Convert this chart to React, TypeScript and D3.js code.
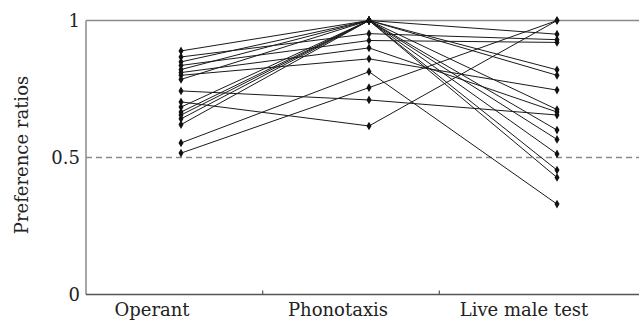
import React from "react";
import * as d3 from "d3";

const categories = ["Operant", "Phonotaxis", "Live male test"];
const yTicks = [0, 0.5, 1];
const operant = [0.889, 0.867, 0.849, 0.836, 0.821, 0.81, 0.80, 0.785, 0.743, 0.703, 0.684, 0.666, 0.655, 0.641, 0.62, 0.553, 0.516];
const phonotaxis = [1.0, 0.952, 1.0, 0.927, 1.0, 0.90, 0.86, 1.0, 0.71, 0.615, 1.0, 1.0, 1.0, 1.0, 1.0, 0.813, 0.755];
const liveMale = [0.95, 0.93, 0.82, 0.92, 0.80, 0.666, 0.746, 0.675, 0.655, 1.0, 0.566, 0.513, 0.454, 0.427, 0.60, 0.33, 1.0];

const W = 639, H = 322;
const left = 86, top = 20.5, bottom = 294.5, right = 639;

export default function App() {
  const y = d3.scaleLinear().domain([0, 1]).range([bottom, top]);
  const xPts = d3.scalePoint().domain(categories).range([181, 557]);
  const xLab = d3.scalePoint().domain(categories).range([152, 524]);
  const band = d3.scaleBand().domain(categories).range([left, 616]);
  const subjects = operant.map((v, i) => [v, phonotaxis[i], liveMale[i]]);
  const line = d3.line<number>().x((_, j) => xPts(categories[j])!).y((v) => y(v));
  const sym = d3.symbol().type(d3.symbolDiamond).size(22)()!;
  const font = "'DejaVu Serif', serif";
  const axisColor = "#8a8a8a";
  return (
    <svg width={W} height={H} style={{ position: "absolute", left: 0, top: 0, background: "#fff" }}>
      <line x1={left} x2={right} y1={y(0.5)} y2={y(0.5)} stroke={axisColor} strokeWidth={1.5} strokeDasharray="6,4" />
      <line x1={left} x2={right} y1={y(1)} y2={y(1)} stroke={axisColor} strokeWidth={1.5} />
      <line x1={left} x2={left} y1={y(1)} y2={y(0)} stroke={axisColor} strokeWidth={1.5} />
      <line x1={left} x2={right} y1={y(0)} y2={y(0)} stroke="#555" strokeWidth={1.5} />
      {categories.slice(1).map((c) => (
        <line key={c} x1={band(c)!} x2={band(c)!} y1={y(0)} y2={y(0) - 4} stroke="#555" strokeWidth={1.2} />
      ))}
      {subjects.map((s, i) => (
        <path key={i} d={line(s)!} fill="none" stroke="#1a1a1a" strokeWidth={1} />
      ))}
      {subjects.map((s, i) =>
        s.map((v, j) => (
          <path key={i + "-" + j} d={sym} transform={`translate(${xPts(categories[j])},${y(v)})`} fill="#111" />
        ))
      )}
      {yTicks.map((t) => (
        <text key={t} x={80} y={y(t)} dy="0.36em" textAnchor="end" fontFamily={font} fontSize={18} fill="#222">
          {t === 0.5 ? "0.5" : String(t)}
        </text>
      ))}
      <text transform={`translate(28,155) rotate(-90)`} textAnchor="middle" fontFamily={font} fontSize={18} fill="#222">
        Preference ratios
      </text>
      {categories.map((c) => (
        <text key={c} x={xLab(c)} y={316} textAnchor="middle" fontFamily={font} fontSize={18} fill="#222">
          {c}
        </text>
      ))}
    </svg>
  );
}
